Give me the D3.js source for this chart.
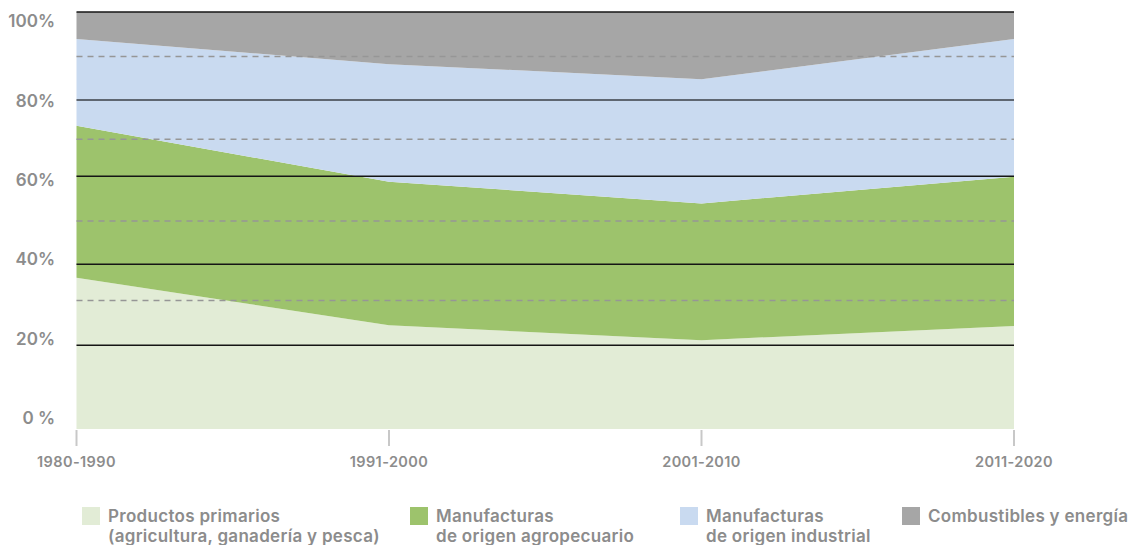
<!DOCTYPE html>
<html>
<head>
<meta charset="utf-8">
<script src="https://cdn.jsdelivr.net/npm/d3@7"></script>
<style>
  html, body { margin: 0; padding: 0; background: #fff; }
  svg { display: block; }
  text { font-family: Inter, "Noto Sans", sans-serif; fill: #8c8c8c; font-weight: 600; }
</style>
</head>
<body>
<svg id="chart" width="1133" height="545"></svg>
<script>
// ---- data ----
const periods = ["1980-1990", "1991-2000", "2001-2010", "2011-2020"];
const primarios = [36.3, 24.9, 21.3, 24.7];
const agropecuario = [36.4, 34.4, 32.8, 35.8];
const industrial = [20.8, 28.2, 29.8, 33.0];
const combustibles = [6.5, 12.5, 16.1, 6.5];
const seriesKeys = ["primarios", "agropecuario", "industrial", "combustibles"];
const seriesColors = ["#e2ecd6", "#9dc36c", "#c9daf0", "#a6a6a6"];
const legendLines = [
  ["Productos primarios", "(agricultura, ganadería y pesca)"],
  ["Manufacturas", "de origen agropecuario"],
  ["Manufacturas", "de origen industrial"],
  ["Combustibles y energía"]
];
const yTickLabels = ["0 %", "20%", "40%", "60%", "80%", "100%"];
// gridlines
const gridSolid = [100, 78.9, 60.6, 39.5, 20.1];
const gridDashed = [89.3, 69.5, 49.9, 30.8];

// ---- build ----
const table = periods.map((p, i) => ({
  period: p,
  primarios: primarios[i],
  agropecuario: agropecuario[i],
  industrial: industrial[i],
  combustibles: combustibles[i]
}));

const svg = d3.select("#chart");
const x = d3.scalePoint().domain(periods).range([76.5, 1014]);
const y = d3.scaleLinear().domain([0, 100]).range([429, 12]);
const yLabel = d3.scaleLinear().domain([0, 100]).range([418, 21]);

const layers = d3.stack().keys(seriesKeys)(table);

const area = d3.area()
  .x(d => x(d.data.period))
  .y0(d => y(d[0]))
  .y1(d => y(d[1]));

svg.append("g").selectAll("path")
  .data(layers)
  .join("path")
  .attr("d", area)
  .attr("fill", (d, i) => seriesColors[i]);

// gridlines
const g = svg.append("g");
g.selectAll("line.dash")
  .data(gridDashed)
  .join("line")
  .attr("class", "dash")
  .attr("x1", x.range()[0]).attr("x2", x.range()[1])
  .attr("y1", d => y(d)).attr("y2", d => y(d))
  .attr("stroke", "#969696")
  .attr("stroke-width", 1.5)
  .attr("stroke-dasharray", "6,5");
g.selectAll("line.solid")
  .data(gridSolid)
  .join("line")
  .attr("class", "solid")
  .attr("x1", x.range()[0]).attr("x2", x.range()[1])
  .attr("y1", d => y(d)).attr("y2", d => y(d))
  .attr("stroke", (d, i) => i === 1 ? "#3a3f47" : "#151515")
  .attr("stroke-width", 1.6);

// y labels
svg.append("g").selectAll("text")
  .data(yTickLabels)
  .join("text")
  .attr("x", 55)
  .attr("y", (d, i) => yLabel(i * 20))
  .attr("dy", "0.36em")
  .attr("text-anchor", "end")
  .style("font-size", "17px")
  .text(d => d);

// x axis ticks & labels
const xa = svg.append("g");
xa.selectAll("line")
  .data(periods)
  .join("line")
  .attr("x1", d => x(d)).attr("x2", d => x(d))
  .attr("y1", 430).attr("y2", 446)
  .attr("stroke", "#c8c8c8")
  .attr("stroke-width", 2);
xa.selectAll("text")
  .data(periods)
  .join("text")
  .attr("x", d => x(d))
  .attr("y", 467)
  .attr("text-anchor", "middle")
  .style("font-size", "14.5px")
  .style("letter-spacing", "0.4px")
  .text(d => d);

// legend
const legendX = [82, 410, 680, 902];
const lg = svg.append("g").selectAll("g")
  .data(legendLines)
  .join("g")
  .attr("transform", (d, i) => `translate(${legendX[i]},0)`);
lg.append("rect")
  .attr("x", 0).attr("y", 507)
  .attr("width", 18).attr("height", 18)
  .attr("fill", (d, i) => seriesColors[i]);
lg.each(function(lines) {
  const t = d3.select(this).append("text")
    .attr("x", 26).attr("y", 522)
    .style("font-size", "17px")
    .style("letter-spacing", "0.3px");
  lines.forEach((l, j) => {
    t.append("tspan").attr("x", 26).attr("dy", j === 0 ? 0 : 20).text(l);
  });
});
</script>
</body>
</html>
